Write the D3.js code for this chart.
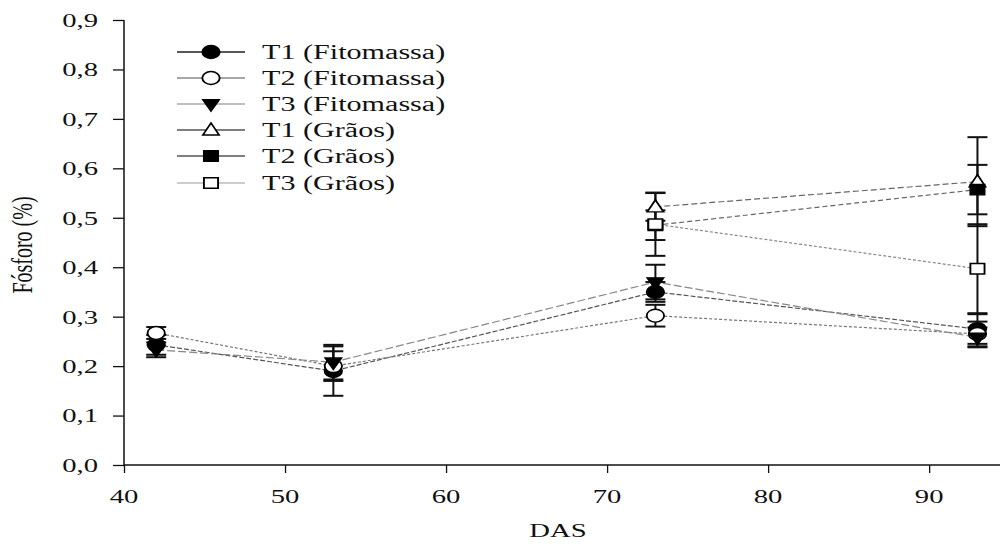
<!DOCTYPE html>
<html><head><meta charset="utf-8">
<script src="https://cdn.jsdelivr.net/npm/d3@7"></script>
<style>body{margin:0;background:#fff}svg{display:block}text{font-family:"Liberation Serif","Times New Roman",serif;fill:#111}</style>
</head><body><svg id="c" width="1000" height="544"></svg>
<script>
const days = [42, 53, 73, 93];
const xTicks = [40, 50, 60, 70, 80, 90];
const yTicks = [0, 0.1, 0.2, 0.3, 0.4, 0.5, 0.6, 0.7, 0.8, 0.9];
const seriesNames = ["T1 (Fitomassa)", "T2 (Fitomassa)", "T3 (Fitomassa)", "T1 (Grãos)", "T2 (Grãos)", "T3 (Grãos)"];
const t1Fito = [0.243, 0.190, 0.350, 0.275];
const t1FitoErr = [0.020, 0.050, 0.020, 0.030];
const t2Fito = [0.267, 0.200, 0.302, 0.265];
const t2FitoErr = [0.012, 0.030, 0.022, 0.025];
const t3Fito = [0.233, 0.208, 0.370, 0.258];
const t3FitoErr = [0.015, 0.035, 0.035, 0.020];
const t1Graos = [null, null, 0.522, 0.573];
const t1GraosErr = [null, null, 0.028, 0.090];
const t2Graos = [null, null, 0.485, 0.557];
const t2GraosErr = [null, null, 0.030, 0.050];
const t3Graos = [null, null, 0.487, 0.397];
const t3GraosErr = [null, null, 0.064, 0.090];

const SX = 1.47;
const series = [
  {name: seriesNames[0], v: t1Fito, e: t1FitoErr, sym: d3.symbolCircle, fill: "#000", dash: "5,2", lc: "#555", legLc: "#222"},
  {name: seriesNames[1], v: t2Fito, e: t2FitoErr, sym: d3.symbolCircle, fill: "#fff", dash: "3,2", lc: "#777", legLc: "#888"},
  {name: seriesNames[2], v: t3Fito, e: t3FitoErr, sym: "tri", fill: "#000", dash: "8,3", lc: "#888", legLc: "#aaa"},
  {name: seriesNames[3], v: t1Graos, e: t1GraosErr, sym: "triUp", fill: "#fff", dash: "6,3", lc: "#666", legLc: "#555"},
  {name: seriesNames[4], v: t2Graos, e: t2GraosErr, sym: d3.symbolSquare, fill: "#000", dash: "5,3", lc: "#666", legLc: "#555"},
  {name: seriesNames[5], v: t3Graos, e: t3GraosErr, sym: d3.symbolSquare, fill: "#fff", dash: "3,2", lc: "#888", legLc: "#bbb"}
];

const svg = d3.select("#c");
const x = d3.scaleLinear().domain([40, 94.4]).range([124, 1000]);
const y = d3.scaleLinear().domain([0, 0.9]).range([465, 20]);
const fmt = v => d3.format(".1f")(v).replace(".", ",");

function markerPath(sym) {
  if (sym === "tri") return `M-6,-4.2 L6,-4.2 L0,7 Z`;
  if (sym === "triUp") return `M-6,5 L6,5 L0,-7 Z`;
  if (sym === d3.symbolSquare) return d3.symbol(sym, 110)();
  return d3.symbol(sym, 130)();
}

// axes
const yAxis = d3.axisLeft(y).tickValues(yTicks).tickSize(11).tickFormat("");
const gy = svg.append("g").attr("transform", "translate(124,0)").call(yAxis);
gy.select(".domain").attr("stroke", "#111").attr("stroke-width", 1.5).attr("d", "M0,20V465");
gy.selectAll(".tick line").attr("stroke", "#111").attr("stroke-width", 1.3);
const xAxis = d3.axisBottom(x).tickValues(xTicks).tickSize(8).tickFormat("");
const gx = svg.append("g").attr("transform", "translate(0,465)").call(xAxis);
gx.select(".domain").attr("stroke", "#111").attr("stroke-width", 1.5).attr("d", "M124,0H1000");
gx.selectAll(".tick line").attr("stroke", "#111").attr("stroke-width", 1.3);

yTicks.forEach(t => {
  svg.append("g").attr("transform", `translate(98,${y(t)})`)
    .append("text").attr("transform", `scale(${SX},1)`).attr("text-anchor", "end")
    .attr("dy", "0.35em").attr("font-size", 19.5).text(fmt(t));
});
xTicks.forEach(t => {
  svg.append("g").attr("transform", `translate(${x(t)},496)`)
    .append("text").attr("transform", `scale(${SX},1)`).attr("text-anchor", "middle")
    .attr("dy", "0.35em").attr("font-size", 19.5).text(t);
});
svg.append("g").attr("transform", "translate(558,530)")
  .append("text").attr("transform", `scale(${SX},1)`).attr("text-anchor", "middle")
  .attr("dy", "0.35em").attr("font-size", 19.5).text("DAS");
svg.append("g").attr("transform", "translate(22,245) rotate(-90)")
  .append("text").attr("transform", `scale(1,${SX})`).attr("text-anchor", "middle")
  .attr("dy", "0.35em").attr("font-size", 20).text("Fósforo (%)");

// lines
const line = d3.line().defined(d => d.v != null).x(d => x(d.d)).y(d => y(d.v));
series.forEach(s => {
  const pts = days.map((d, i) => ({d, v: s.v[i], e: s.e[i]}));
  svg.append("path").attr("d", line(pts)).attr("fill", "none")
    .attr("stroke", s.lc).attr("stroke-width", 1.2).attr("stroke-dasharray", s.dash);
});
// error bars
series.forEach(s => {
  const pts = days.map((d, i) => ({d, v: s.v[i], e: s.e[i]})).filter(p => p.v != null);
  const g = svg.append("g").attr("stroke", "#111").attr("stroke-width", 2);
  pts.forEach(p => {
    const xx = x(p.d), y1 = y(p.v + p.e), y0 = y(p.v - p.e);
    g.append("line").attr("x1", xx).attr("x2", xx).attr("y1", y1).attr("y2", y0);
    g.append("line").attr("x1", xx - 10).attr("x2", xx + 10).attr("y1", y1).attr("y2", y1);
    g.append("line").attr("x1", xx - 10).attr("x2", xx + 10).attr("y1", y0).attr("y2", y0);
  });
});
// markers
series.forEach(s => {
  const pts = days.map((d, i) => ({d, v: s.v[i]})).filter(p => p.v != null);
  svg.append("g").selectAll("path").data(pts).join("path")
    .attr("transform", p => `translate(${x(p.d)},${y(p.v)}) scale(1.35,1)`)
    .attr("d", markerPath(s.sym)).attr("fill", s.fill).attr("stroke", "#000").attr("stroke-width", 1.4);
});

// legend
const legY = [52, 78, 104, 130, 156, 183];
series.forEach((s, i) => {
  const g = svg.append("g").attr("transform", `translate(0,${legY[i]})`);
  g.append("line").attr("x1", 177).attr("x2", 245).attr("stroke", s.legLc).attr("stroke-width", 1.3);
  g.append("path").attr("transform", "translate(211,0) scale(1.35,1)").attr("d", markerPath(s.sym))
    .attr("fill", s.fill).attr("stroke", "#000").attr("stroke-width", 1.4);
  g.append("g").attr("transform", "translate(262,0)").append("text")
    .attr("transform", `scale(${SX},1)`).attr("dy", "0.35em").attr("font-size", 20.5).text(s.name);
});
</script></body></html>
